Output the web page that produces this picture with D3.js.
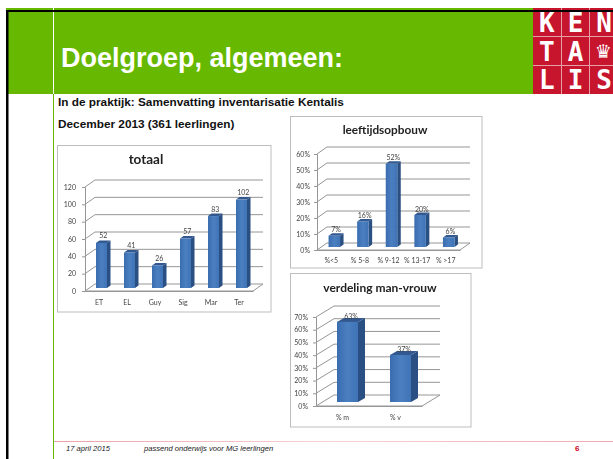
<!DOCTYPE html>
<html>
<head>
<meta charset="utf-8">
<script src="https://cdn.jsdelivr.net/npm/d3@7"></script>
<style>
html, body { margin: 0; padding: 0; background: #fff; overflow: hidden; }
svg { display: block; }
</style>
</head>
<body>
<div id="slide"></div>
<script>
// data
const totaalCats = ["ET", "EL", "Guy", "Sig", "Mar", "Ter"];
const totaalVals = [52, 41, 26, 57, 83, 102];
const totaalTicks = [0, 20, 40, 60, 80, 100, 120];

const leeftijdCats = ["%<5", "% 5-8", "% 9-12", "% 13-17", "% >17"];
const leeftijdVals = [7, 16, 52, 20, 6];
const leeftijdTicks = [0, 10, 20, 30, 40, 50, 60];

const geslachtCats = ["% m", "% v"];
const geslachtVals = [63, 37];
const geslachtTicks = [0, 10, 20, 30, 40, 50, 60, 70];

const logoLetters = [["K", "E", "N"], ["T", "A", "♛"], ["L", "I", "S"]];

const W = 613, H = 459;
const svg = d3.select("#slide").append("svg").attr("width", W).attr("height", H);
const defs = svg.append("defs");
defs.append("filter").attr("id", "soft").append("feGaussianBlur").attr("stdDeviation", 0.4);
const barGrad = defs.append("linearGradient").attr("id", "barFront");
barGrad.append("stop").attr("offset", "0%").attr("stop-color", "#3a6cb0");
barGrad.append("stop").attr("offset", "50%").attr("stop-color", "#4a7fc0");
barGrad.append("stop").attr("offset", "100%").attr("stop-color", "#3f73b6");
const lineGrad = defs.append("linearGradient").attr("id", "footLine");
lineGrad.append("stop").attr("offset", "0%").attr("stop-color", "#eda0a8");
lineGrad.append("stop").attr("offset", "50%").attr("stop-color", "#f6d3d6");
lineGrad.append("stop").attr("offset", "100%").attr("stop-color", "#efa9b0");

// kop
svg.append("rect").attr("x", 6).attr("y", 8).attr("width", 527).attr("height", 86).attr("fill", "#66b900");
svg.append("rect").attr("x", 533).attr("y", 8).attr("width", 80).attr("height", 86).attr("fill", "#c6152d");
svg.append("rect").attr("x", 53).attr("y", 8).attr("width", 1).attr("height", 86).attr("fill", "#fff");

// logo
const logoX = d3.scaleBand().domain([0, 1, 2]).range([533, 619]);
const logoY = d3.scaleBand().domain([0, 1, 2]).range([8, 94]);
logoLetters.forEach((row, r) => row.forEach((l, c) => {
  const crown = l == "♛";
  svg.append("text")
    .attr("x", logoX(c) + logoX.bandwidth() / 2 - (crown ? 1.5 : 0.5))
    .attr("y", logoY(r) + logoY.bandwidth() / 2 + (crown ? 7 : r == 2 ? 9 : 10))
    .attr("text-anchor", "middle")
    .style("font-family", crown ? "DejaVu Sans" : "'DejaVu Sans Mono'")
    .style("font-weight", 700)
    .style("font-size", crown ? "19px" : "26px")
    .attr("fill", "#fff")
    .text(l);
}));
[561, 589].forEach(x => svg.append("rect").attr("x", x).attr("y", 8).attr("width", 1).attr("height", 86).attr("fill", "#e8a0a8"));
[36, 65].forEach(y => svg.append("rect").attr("x", 533).attr("y", y).attr("width", 80).attr("height", 1).attr("fill", "#e8a0a8"));

// randen
svg.append("rect").attr("x", 6).attr("y", 10).attr("width", 607).attr("height", 2).attr("fill", "#000");
svg.append("rect").attr("x", 6).attr("y", 10).attr("width", 2.5).attr("height", H - 10).attr("fill", "#000");
svg.append("rect").attr("x", 53).attr("y", 94).attr("width", 1).attr("height", H - 94).attr("fill", "#66b900");

svg.append("text").attr("x", 61).attr("y", 67)
  .style("font-family", "'Liberation Sans'").style("font-weight", 700).style("font-size", "27px")
  .attr("fill", "#fff").text("Doelgroep, algemeen:");

const subStyle = s => s.style("font-family", "'Liberation Sans'").style("font-weight", 700).style("font-size", "11.8px").attr("fill", "#111");
svg.append("text").attr("x", 58).attr("y", 106).call(subStyle).text("In de praktijk: Samenvatting inventarisatie Kentalis");
svg.append("text").attr("x", 58).attr("y", 128).call(subStyle).text("December 2013 (361 leerlingen)");

// footer
svg.append("rect").attr("x", 54).attr("y", 441).attr("width", W - 54).attr("height", 1).attr("fill", "url(#footLine)");
const footStyle = s => s.style("font-family", "'Liberation Sans'").style("font-style", "italic").style("font-size", "7.6px").attr("fill", "#222");
svg.append("text").attr("x", 66).attr("y", 451).call(footStyle).text("17 april 2015");
svg.append("text").attr("x", 144).attr("y", 451).call(footStyle).text("passend onderwijs voor MG leerlingen");
svg.append("text").attr("x", 575).attr("y", 451)
  .style("font-family", "'Liberation Sans'").style("font-weight", 700).style("font-size", "8px")
  .attr("fill", "#d0021b").text("6");

// 3D kolomgrafiek, geplakt plaatje in de dia
function drawChart(o) {
  const g = svg.append("g").attr("filter", "url(#soft)");

  g.append("rect").attr("x", o.box[0]).attr("y", o.box[1])
    .attr("width", o.box[2] - o.box[0]).attr("height", o.box[3] - o.box[1])
    .attr("fill", "#fff").attr("stroke", "#bdbdbd").attr("stroke-width", 1);

  g.append("text").attr("x", o.titleX).attr("y", o.titleY)
    .attr("text-anchor", "middle")
    .style("font-family", "Lato").style("font-weight", 700).style("font-size", o.titleSize + "px")
    .attr("fill", "#222").text(o.title);

  const x = d3.scaleBand().domain(o.cats).range([o.x0, o.x1]);
  const y = d3.scaleLinear().domain(d3.extent(o.ticks)).range([o.y0, o.yTop]);
  const fmt = d => d + o.unit;

  // wand en vloer
  const grid = g.append("g").attr("fill", "none").attr("stroke", "#969696").attr("stroke-width", 1);
  o.ticks.forEach(t => {
    grid.append("path").attr("d", d3.line()([
      [o.x0, y(t)], [o.x0 + o.dx, y(t) + o.dy], [o.x1 + o.dx, y(t) + o.dy]
    ]));
  });
  grid.append("path").attr("d", d3.line()([
    [o.x1 + o.dx, o.y0 + o.dy], [o.x1, o.y0], [o.x0, o.y0]
  ]));

  // assen
  const yAxis = g.append("g").attr("transform", `translate(${o.x0},0)`)
    .call(d3.axisLeft(y).tickValues(o.ticks).tickFormat(fmt).tickSize(3).tickPadding(o.yPad));
  const xAxis = g.append("g").attr("transform", `translate(0,${o.y0})`)
    .call(d3.axisBottom(x).tickSize(0).tickPadding(o.xPad));
  [yAxis, xAxis].forEach(a => {
    a.selectAll(".domain").attr("stroke", "#969696");
    a.selectAll("line").attr("stroke", "#969696");
    a.selectAll("text").style("font-family", "Lato").style("font-size", "7px").attr("fill", "#444");
  });

  // balken
  const bw = o.barW;
  o.vals.forEach((v, i) => {
    const left = x(o.cats[i]) + x.bandwidth() / 2 - bw / 2 + o.inX;
    const bottom = y(0) + o.inY;
    const top = bottom - (y(0) - y(v));
    g.append("path").attr("fill", "#2b4f82").attr("d", d3.line()([
      [left + bw, top], [left + bw + o.depthX, top + o.depthY],
      [left + bw + o.depthX, bottom + o.depthY], [left + bw, bottom]
    ]));
    g.append("path").attr("fill", "#32598f").attr("d", d3.line()([
      [left, top], [left + o.depthX, top + o.depthY],
      [left + bw + o.depthX, top + o.depthY], [left + bw, top]
    ]));
    g.append("rect").attr("x", left).attr("y", top).attr("width", bw).attr("height", bottom - top)
      .attr("fill", "url(#barFront)");
    g.append("text").attr("x", left + bw / 2 + o.depthX / 2).attr("y", top + o.depthY - o.labelGap)
      .attr("text-anchor", "middle")
      .style("font-family", "Lato").style("font-size", "7px").attr("fill", "#444")
      .text(fmt(v));
  });
}

drawChart({
  title: "totaal", titleX: 146, titleY: 164, titleSize: 13.5, unit: "",
  cats: totaalCats, vals: totaalVals, ticks: totaalTicks,
  box: [57.5, 145.5, 271, 312],
  x0: 85, x1: 253, y0: 291, yTop: 187, dx: 10, dy: -7,
  barW: 11, inX: 2.5, inY: -3, depthX: 3.5, depthY: -2.5, labelGap: 2, xPad: 9, yPad: 6
});
drawChart({
  title: "leeftijdsopbouw", titleX: 385, titleY: 134, titleSize: 11.8, unit: "%",
  cats: leeftijdCats, vals: leeftijdVals, ticks: leeftijdTicks,
  box: [290.5, 116.5, 482, 268],
  x0: 317, x1: 460, y0: 250, yTop: 154, dx: 10, dy: -7,
  barW: 11.5, inX: 3, inY: -3, depthX: 3.5, depthY: -2.5, labelGap: 1, xPad: 8, yPad: 4
});
drawChart({
  title: "verdeling man-vrouw", titleX: 380, titleY: 292, titleSize: 12, unit: "%",
  cats: geslachtCats, vals: geslachtVals, ticks: geslachtTicks,
  box: [290.5, 273.5, 471, 427],
  x0: 316, x1: 422, y0: 406, yTop: 317, dx: 18, dy: -11,
  barW: 21, inX: 5, inY: -4, depthX: 7, depthY: -4, labelGap: -1, xPad: 9, yPad: 5
});
</script>
</body>
</html>
